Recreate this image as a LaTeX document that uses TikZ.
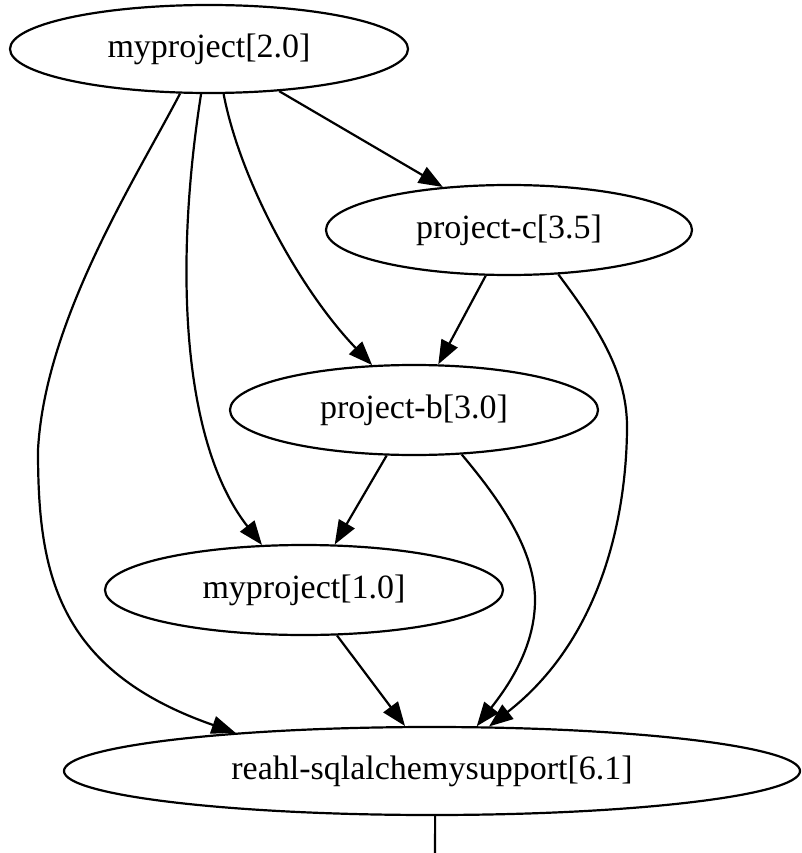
\documentclass[tikz,border=0pt]{standalone}
\usepackage{fontspec}
\setmainfont{Liberation Serif}
\usetikzlibrary{arrows.meta,shapes.geometric}
\begin{document}
\begin{tikzpicture}[x=1pt,y=-1pt,
  pkg/.style={draw, ellipse, line width=2.2pt, inner sep=0pt,
              font=\fontsize{34}{40}\selectfont},
  dep/.style={line width=2.2pt, -{Triangle[length=24pt,width=18pt]}},
  plain/.style={line width=2.2pt}
]
\useasboundingbox (0,0) rectangle (802,853);

% packages
\node[pkg, minimum width=398pt, minimum height=88pt] (p20) at (209,49)  {myproject[2.0]};
\node[pkg, minimum width=366pt, minimum height=90pt] (pc)  at (509,230) {project-c[3.5]};
\node[pkg, minimum width=368pt, minimum height=90pt] (pb)  at (414,410) {project-b[3.0]};
\node[pkg, minimum width=398pt, minimum height=90pt] (p10) at (304,590) {myproject[1.0]};
\node[pkg, minimum width=736pt, minimum height=88pt] (rs)  at (432,771) {reahl-sqlalchemysupport[6.1]};
\coordinate (tail) at (435,870);

% dependencies of myproject[2.0]
\draw[dep] (p20.-31.8) -- (pc.147.5);
\draw[dep] (p20.-72.6) .. controls (240,180) and (300,290) .. (pb.133.6);
\draw[dep] (p20.-100.8) .. controls (175,260) and (180,440) .. (p10.133.6);
\draw[dep] (p20.-123.4) .. controls (135,180) and (45,320) .. (38,450)
                        .. controls (38,570) and (55,670) .. (rs.169.8);

% dependencies of project-c[3.5]
\draw[dep] (pc.-117.1) -- (pb.62.4);
\draw[dep] (pc.-42.6) .. controls (600,330) and (628,375) .. (627,430)
                      .. controls (626,520) and (600,640) .. (rs.38.7);

% dependencies of project-b[3.0]
\draw[dep] (pb.-121) -- (p10.56.9);
\draw[dep] (pb.-43.2) .. controls (500,500) and (535,550) .. (535,600)
                      .. controls (535,650) and (505,690) .. (rs.45.7);

% dependency of myproject[1.0]
\draw[dep] (p10.-54.9) -- (rs.121.5);

% edge leaving the bottom package
\draw[plain] (rs.-86) -- (tail);
\end{tikzpicture}
\end{document}
